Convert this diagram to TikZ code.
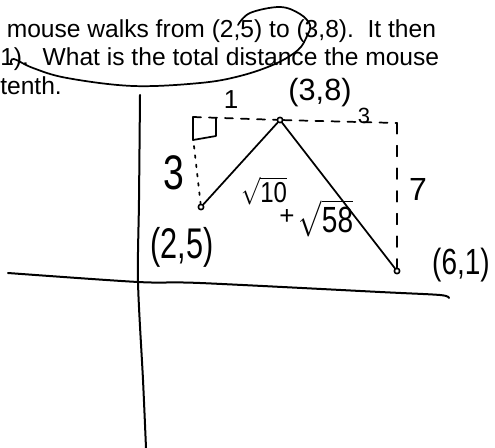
\documentclass[tikz,border=0pt]{standalone}
\usepackage{fontspec}
\setmainfont{Liberation Sans}
\begin{document}
\frenchspacing
\begin{tikzpicture}[x=0.75pt,y=-0.75pt, line cap=round, line join=round,
  qtext/.style={anchor=base west, inner sep=0pt, font=\fontsize{18.45}{22}\selectfont},
  hand/.style={line width=1.3pt},
  axisline/.style={line width=1.5pt},
  hlabel/.style={inner sep=0pt},
  ptmark/.style={circle, draw, line width=1.2pt, inner sep=0pt, minimum size=4pt},
  dsh/.style={hand, dash pattern=on 6pt off 6pt}]
\useasboundingbox (0,0) rectangle (495,448);
\fill[white] (0,0) rectangle (495,448);

% question text
\node[qtext] (l1) at (6.5,37.5) {mouse walks from (2,5) to (3,8).\ \ It then};
\node[qtext] (l2) at (0,66) {1).\ \ What is the total distance the mouse};
\node[qtext] (l3) at (0,95) {tenth.};

% loop stroke
\draw[hand] plot[smooth, tension=0.6] coordinates {(238,25) (250,13) (280,7) (300,14) (310,25) (307,36) (298,50) (275,64) (240,76) (200,83) (133,86) (67,78) (33,68) (14,59) (11,63)};

% axes
\draw[axisline] plot[smooth] coordinates {(140,95) (139,200) (138,282) (143,380) (146,448)};
\draw[axisline] plot[smooth] coordinates {(8,273) (138,282) (200,283) (380,292) (440,295) (449,298)};

% points
\node[ptmark] (p25) at (201,207) {};
\node[ptmark] (p38) at (280,120) {};
\node[ptmark] (p61) at (397,271) {};
\coordinate (c1) at (193,117);
\coordinate (c1b) at (193,140);
\coordinate (c2) at (397,123);

% path of the mouse
\draw[hand] (p25) -- (p38);
\draw[hand] (p38) -- (p61);

% dashed helper lines
\draw[dsh] (c1) -- (p38);
\draw[hand] (c1) -- (c1b);
\draw[hand] (c1b) -- (216,136) -- (216,118);
\draw[hand, dash pattern=on 2pt off 5pt] (194,146) -- (p25);
\draw[dsh] (p38) -- (c2);
\draw[hand, dash pattern=on 8pt off 9pt] (c2) -- (p61);

% handwritten labels
\node[hlabel, font=\fontsize{19.5}{20}\selectfont] (one) at (231,100) {1};
\node[hlabel, font=\fontsize{28}{30}\selectfont] (three) at (174,173) {\scalebox{1}[1.3]{3}};
\node[hlabel, font=\fontsize{23}{26}\selectfont] (lab38) at (320,93) {(3,8)};
\node[hlabel, font=\fontsize{16.5}{18}\selectfont] (threeb) at (364,116) {3};
\node[hlabel, font=\fontsize{24}{26}\selectfont] (seven) at (418,189) {7};
\node[hlabel, font=\fontsize{23}{26}\selectfont] (lab25) at (182,247) {\scalebox{1}[1.4]{(2,5)}};
\node[hlabel, font=\fontsize{21}{24}\selectfont] (lab61) at (461,265) {\scalebox{1}[1.3]{(6,1)}};
\node[hlabel, font=\fontsize{19.5}{22}\selectfont] (plus) at (287,217) {+};
\node[hlabel, font=\fontsize{18}{22}\selectfont] (sq10) at (264,191) {\scalebox{1}[1.2]{$\sqrt{\hbox{10}}$}};
\node[hlabel, font=\fontsize{21}{26}\selectfont] (sq58) at (326,218) {\scalebox{1}[1.3]{$\sqrt{\hbox{58}}$}};
\end{tikzpicture}
\end{document}
